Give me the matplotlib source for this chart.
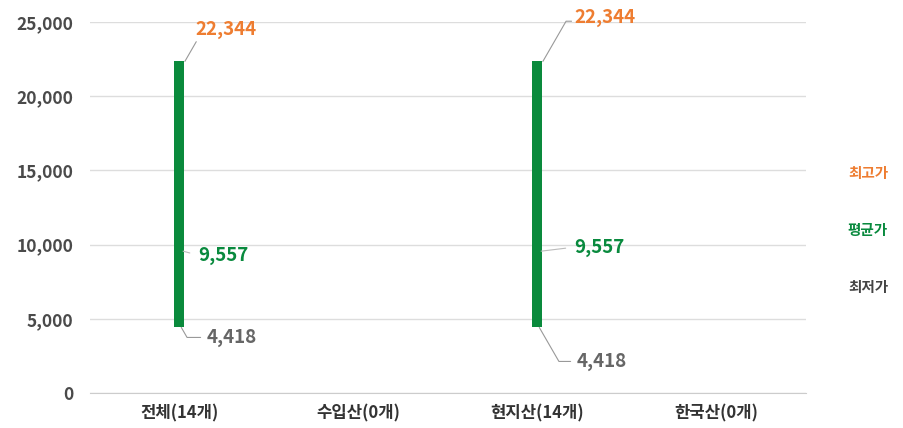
import matplotlib
matplotlib.use("Agg")
import matplotlib.pyplot as plt
import numpy as np

plt.rcParams['font.family'] = ['Noto Sans CJK KR', 'DejaVu Sans']

categories = ['전체(14개)', '수입산(0개)', '현지산(14개)', '한국산(0개)']
max_vals = [22344, np.nan, 22344, np.nan]
avg_vals = [9557, np.nan, 9557, np.nan]
min_vals = [4418, np.nan, 4418, np.nan]
yticks = [0, 5000, 10000, 15000, 20000, 25000]
legend_labels = ['최고가', '평균가', '최저가']

c_max = '#EE7D31'
c_avg = '#098A3E'
c_min = '#666666'
c_bar = '#0A8A3C'

W, H = 904, 428
fig = plt.figure(figsize=(W/100, H/100), dpi=100)
ax = fig.add_axes([90/W, 35/H, 716/W, 371/H])

x = np.arange(len(categories))
mx = np.array(max_vals, float)
mn = np.array(min_vals, float)
av = np.array(avg_vals, float)
ax.bar(x, mx - mn, bottom=mn, width=10/179, color=c_bar, zorder=3)

ax.set_xlim(-0.5, 3.5)
ax.set_ylim(0, 25000)
ax.set_yticks(yticks)
ax.set_yticklabels([f'{v:,}' for v in yticks], color='#4A4A4A', fontsize=12.5,
                   fontweight='bold')
ax.set_xticks(x)
ax.set_xticklabels(categories, color='#333333', fontsize=12, fontweight='bold')
ax.tick_params(axis='y', length=0, pad=12)
ax.tick_params(axis='x', length=0, pad=8)
ax.grid(axis='y', color='#DDDDDD', linewidth=1, zorder=0)
for s in ['top', 'right', 'left']:
    ax.spines[s].set_visible(False)
ax.spines['bottom'].set_color('#CCCCCC')

# label offsets (pixels) per visible bar
max_off = {0: (41, 32), 2: (62, 44)}
avg_off = {0: (40, -4), 2: (58, 4)}
min_off = {0: (50, -10), 2: (62, -34)}

for i in range(len(categories)):
    if np.isnan(mx[i]):
        continue
    dx, dy = max_off[i]
    ax.annotate(f'{int(mx[i]):,}', xy=(x[i] + 0.03, mx[i]), xytext=(dx, dy),
                textcoords='offset pixels', ha='center', va='center',
                color=c_max, fontsize=13.5, fontweight='bold',
                arrowprops=dict(arrowstyle='-', color='#999999', lw=0.8,
                                shrinkA=0, shrinkB=0,
                                connectionstyle='angle,angleA=0,angleB=60,rad=0',
                                relpos=(0, 0.3)),
                annotation_clip=False, zorder=4)
    dx, dy = avg_off[i]
    ax.annotate(f'{int(av[i]):,}', xy=(x[i] + 0.02, av[i]), xytext=(dx, dy),
                textcoords='offset pixels', ha='center', va='center',
                color=c_avg, fontsize=13.5, fontweight='bold',
                arrowprops=dict(arrowstyle='-', color='#BBBBBB', lw=0.8,
                                shrinkA=4, shrinkB=0, relpos=(0, 0.5)),
                annotation_clip=False, zorder=4)
    dx, dy = min_off[i]
    ax.annotate(f'{int(mn[i]):,}', xy=(x[i] + 0.01, mn[i]), xytext=(dx, dy),
                textcoords='offset pixels', ha='center', va='center',
                color=c_min, fontsize=13.5, fontweight='bold',
                arrowprops=dict(arrowstyle='-', color='#999999', lw=0.8,
                                shrinkA=2, shrinkB=0,
                                connectionstyle='angle,angleA=0,angleB=-60,rad=0',
                                relpos=(0, 0.5)),
                annotation_clip=False, zorder=4)

leg_colors = [c_max, c_avg, '#444444']
leg_y = [173, 230, 287]
for lab, col, yy in zip(legend_labels, leg_colors, leg_y):
    fig.text(868/W, 1 - yy/H, lab, color=col, fontsize=10.5, fontweight='bold',
             ha='center', va='center')

fig.savefig('out.png', dpi=100)
